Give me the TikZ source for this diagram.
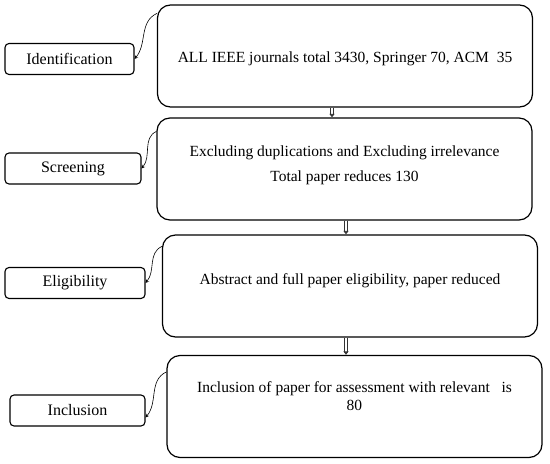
\documentclass[tikz,border=0pt]{standalone}
\usepackage{fontspec}
\setmainfont{Liberation Serif}
\usepackage{tikz}
\usetikzlibrary{arrows.meta}

\begin{document}
\begin{tikzpicture}[x=1pt, y=-1pt, >=stealth,
        main node/.style={rectangle, draw, rounded corners=13pt, line width=1.2pt,
        minimum width=375pt, minimum height=102pt, align=center,
        font=\fontsize{15.5}{18}\selectfont},
        stage node/.style={rectangle, draw, rounded corners=4pt, line width=1.1pt,
        minimum height=31pt, font=\fontsize{16}{18}\selectfont},
        flow arrow/.style={draw=black!80, double, double distance=1.6pt, line width=1pt,
        -{Latex[length=3.5pt, width=6pt]}},
        side arrow/.style={->, line width=0.6pt}]
        \useasboundingbox (0,0) rectangle (550,464);

        \node[main node, text height=17pt] (search) at (345,56) {ALL IEEE journals total 3430, Springer 70, ACM~~35};
        \node[main node, text depth=10pt] (exclude) at (344.5,169) {Excluding duplications and Excluding irrelevance\\[7pt] Total paper reduces 130};
        \node[main node, text depth=13pt] (abstract) at (350,286) {Abstract and full paper eligibility, paper reduced};
        \node[main node, text depth=20pt] (assess) at (354.5,406.5) {Inclusion of paper for assessment with relevant~~ is\\ 80};

        \node[stage node, minimum width=129pt] (ident) at (69.5,59) {Identification};
        \node[stage node, minimum width=136pt] (screen) at (73,168.5) {Screening};
        \node[stage node, minimum width=140pt] (elig) at (75,283) {Eligibility};
        \node[stage node, minimum width=135pt] (incl) at (77.5,410.5) {Inclusion};

        \draw[flow arrow] ([xshift=-13pt]search.south) -- ([xshift=-12.5pt]exclude.north);
        \draw[flow arrow] ([xshift=1.5pt]exclude.south) -- ([xshift=-4pt]abstract.north);
        \draw[flow arrow] ([xshift=-4pt]abstract.south) -- ([xshift=-8.5pt]assess.north);

        \draw[side arrow] ([yshift=-9pt]search.north west) to[out=205, in=50] (ident.east);
        \draw[side arrow] ([yshift=-14pt]exclude.north west) to[out=205, in=50] (screen.east);
        \draw[side arrow] ([yshift=-12pt]abstract.north west) to[out=205, in=50] (elig.east);
        \draw[side arrow] ([yshift=-17pt]assess.north west) to[out=205, in=50] ([yshift=-7pt]incl.east);
    \end{tikzpicture}
\end{document}
